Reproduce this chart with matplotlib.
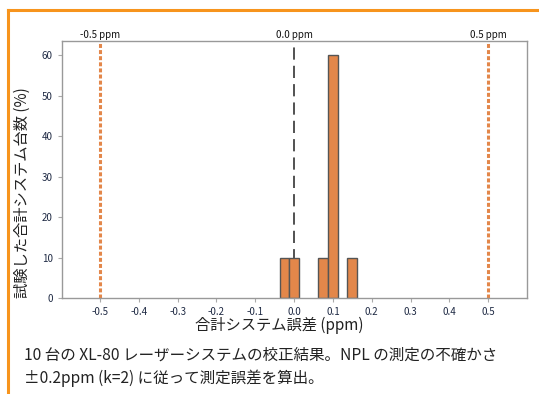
import matplotlib
matplotlib.use("Agg")
import matplotlib.pyplot as plt
from matplotlib.lines import Line2D

plt.rcParams['font.family'] = ['Noto Sans CJK JP', 'DejaVu Sans']

bin_centers = [-0.025, 0.0, 0.075, 0.1, 0.15]
percent = [10, 10, 10, 60, 10]
bin_width = 0.025
limit_lines = [-0.5, 0.5]
limit_labels = ["-0.5 ppm", "0.5 ppm"]
zero_label = "0.0 ppm"
xticks = [-0.5, -0.4, -0.3, -0.2, -0.1, 0.0, 0.1, 0.2, 0.3, 0.4, 0.5]
yticks = [0, 10, 20, 30, 40, 50, 60]
ylabel = "試験した合計システム台数 (%)"
xlabel = "合計システム誤差 (ppm)"
caption = ["10 台の XL-80 レーザーシステムの校正結果。NPL の測定の不確かさ",
           "±0.2ppm (k=2) に従って測定誤差を算出。"]

W, H = 539, 394
fig = plt.figure(figsize=(W/100, H/100), dpi=100)
ax = fig.add_axes([62/W, 1-298/H, (527-62)/W, (298-41)/H])

bar_color = '#E3874A'
ax.axvline(0.0, color='#222222', lw=1.1, ls=(0, (8, 4)), zorder=1)
for v in limit_lines:
    ax.axvline(v, color='#E3874A', lw=2.2, ls=(0, (1.3, 0.7)), zorder=1)
ax.bar(bin_centers, percent, width=bin_width, color=bar_color,
       edgecolor='#555555', linewidth=1.0, zorder=2)

ax.set_xlim(-0.598, 0.6)
ax.set_ylim(0, 63.5)
ax.set_xticks(xticks)
ax.set_xticklabels(["-0.5", "-0.4", "-0.3", "-0.2", "-0.1", "0.0", "0.1", "0.2", "0.3", "0.4", "0.5"])
ax.set_yticks(yticks)
ax.tick_params(axis='both', labelsize=7, colors='#aaaaaa', labelcolor='#1f2a44',
               length=3, width=0.8)
for s in ax.spines.values():
    s.set_color('#999999')
    s.set_linewidth(1.0)

for v, lab in zip(limit_lines + [0.0], limit_labels + [zero_label]):
    ax.text(v, 1.005, lab, transform=ax.get_xaxis_transform(), ha='center',
            va='bottom', fontsize=7, color='#111111')

ax.set_ylabel(ylabel, fontsize=11, color='#222222')
ax.yaxis.set_label_coords(-0.068, 0.41)
ax.set_xlabel(xlabel, fontsize=11, color='#222222')
ax.xaxis.set_label_coords(0.467, -0.075)

fig.text(24/W, 1-355/H, caption[0], fontsize=11.2, color='#222222', va='center', ha='left')
fig.text(24/W, 1-378/H, caption[1], fontsize=11.2, color='#222222', va='center', ha='left')

frame_color = '#F7941D'
fig.add_artist(Line2D([8/W, 1.0], [1-10/H, 1-10/H], color=frame_color, lw=2.2,
                      transform=fig.transFigure))
fig.add_artist(Line2D([8/W, 8/W], [0, 1-10/H], color=frame_color, lw=2.2,
                      transform=fig.transFigure))

fig.savefig("out.png", dpi=100)
